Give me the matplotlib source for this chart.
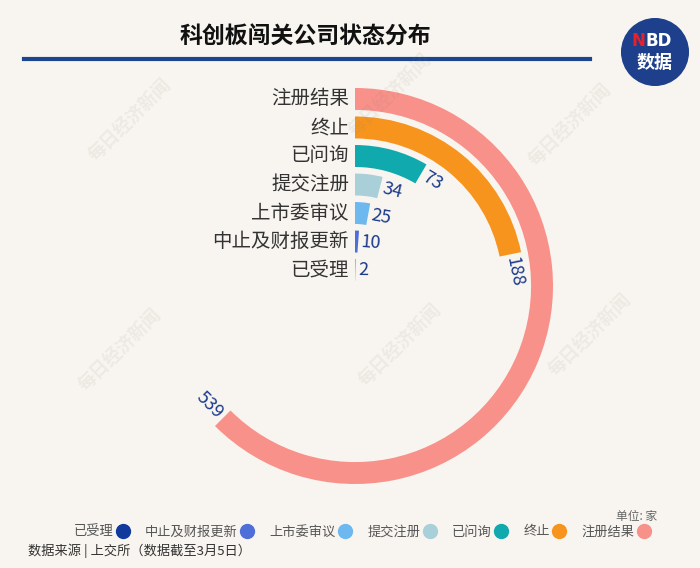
import numpy as np
import matplotlib
matplotlib.use("Agg")
import matplotlib.pyplot as plt
from matplotlib.lines import Line2D
from matplotlib.patches import Circle

plt.rcParams['font.family'] = ['Noto Sans CJK SC', 'DejaVu Sans']

# ---- data ----
categories = ['已受理', '中止及财报更新', '上市委审议', '提交注册', '已问询', '终止', '注册结果']
values = [2, 10, 25, 34, 73, 188, 539]
colors = ['#123a9c', '#4f6fd8', '#6cb8ef', '#a9cfd9', '#10a9ad', '#f7941e', '#f8918a']
title = '科创板闯关公司状态分布'
source = '数据来源 | 上交所（数据截至3月5日）'
unit = '单位: 家'

BG = '#f8f5f0'
W, H = 700, 568
fig = plt.figure(figsize=(W / 100, H / 100), dpi=100, facecolor=BG)

# watermarks
for (wx, wy) in [(130, 120), (390, 95), (570, 125), (120, 350), (400, 345), (590, 335)]:
    fig.text(wx / W, 1 - wy / H, '每日经济新闻', rotation=45, fontsize=13, color='#8a7f70', alpha=0.10,
             ha='center', va='center', fontweight='bold', zorder=5)

# polar axes geometry
cx, cy, R = 355, 286, 201
ax = fig.add_axes([(cx - R) / W, (H - cy - R) / H, 2 * R / W, 2 * R / H], projection='polar')
ax.set_facecolor('none')
ax.set_theta_zero_location('N')
ax.set_theta_direction(-1)
amax = max(values) * 1.6
theta = [v / amax * 2 * np.pi for v in values]
pos = np.arange(len(categories))
ax.barh(pos, theta, left=0, height=0.77, color=colors, edgecolor='none', zorder=2)
ax.set_thetalim(0, 2 * np.pi)
ax.set_ylim(-0.56, 6.49)
ax.grid(False)
ax.set_xticks([])
ax.set_yticks([])
ax.spines['polar'].set_visible(False)

# category labels
for i, c in enumerate(categories):
    ax.annotate(c, xy=(0, i), xytext=(-6, 0), textcoords='offset pixels',
                ha='right', va='center', fontsize=14, color='#333333')

# value labels
px_per_r = R / (6.49 + 0.56)
for i, (v, t) in enumerate(zip(values, theta)):
    rpx = (i + 0.56) * px_per_r
    deg = np.degrees(t)
    rot = -deg
    flip = False
    while rot <= -90:
        rot += 180
        flip = True
    ta = t + 3 / rpx
    ax.text(ta, i, str(v), rotation=rot, rotation_mode='anchor',
            ha='right' if flip else 'left', va='center', fontsize=13, color='#1b3a8c', zorder=3)

# title and line
fig.text(305 / W, 1 - 37 / H, title, ha='center', va='center', fontsize=16.5, fontweight='bold', color='#111111')
fig.add_artist(Line2D([24 / W, 590 / W], [1 - 59 / H] * 2, color='#1c4590', lw=3))

# logo
lax = fig.add_axes([621 / W, 1 - 86 / H, 68 / W, 68 / H])
lax.set_xlim(0, 1); lax.set_ylim(0, 1); lax.axis('off')
lax.add_patch(Circle((0.5, 0.5), 0.49, color='#1d3f8c'))
lax.text(0.36, 0.66, 'N', color='#e8202a', fontsize=12, fontweight='bold', ha='right', va='center', family='DejaVu Sans')
lax.text(0.36, 0.66, 'BD', color='white', fontsize=12, fontweight='bold', ha='left', va='center', family='DejaVu Sans')
lax.text(0.5, 0.34, '数据', color='white', fontsize=13, fontweight='bold', ha='center', va='center')

# legend
handles = [Line2D([], [], marker='o', linestyle='none', markersize=10, markerfacecolor=c,
                  markeredgecolor=c) for c in colors]
fig.legend(handles, categories, loc='center', bbox_to_anchor=(362 / W, 1 - 532 / H), ncol=7,
           frameon=False, markerfirst=False, handletextpad=0.2, columnspacing=1.2,
           handlelength=1.0, fontsize=9.5, labelcolor='#555555')

fig.text(657 / W, 1 - 516 / H, unit, ha='right', va='center', fontsize=8.5, color='#666666')
fig.text(28 / W, 1 - 551 / H, source, ha='left', va='center', fontsize=9.5, color='#333333')

fig.savefig('out.png', dpi=100, facecolor=BG)
